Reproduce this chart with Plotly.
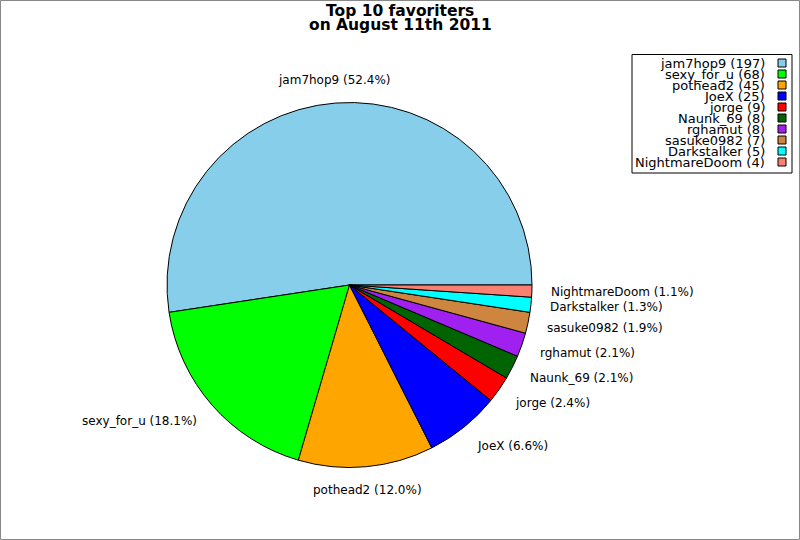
import math
import plotly.graph_objects as go

names = ["jam7hop9", "sexy_for_u", "pothead2", "JoeX", "jorge", "Naunk_69",
         "rghamut", "sasuke0982", "Darkstalker", "NightmareDoom"]
counts = [197, 68, 45, 25, 9, 8, 8, 7, 5, 4]
colors = ["#87CEEB", "#00FF00", "#FFA500", "#0000FF", "#FF0000", "#006400",
          "#A020F0", "#CD853F", "#00FFFF", "#FA8072"]
title_lines = ["Top 10 favoriters", "on August 11th 2011"]

W, H = 800, 540
cx, cy, R = 349.5, 285.0, 182.5
label_r = 200.0

total = sum(counts)
# plotly (counterclockwise) places the first slice clockwise of `rotation`;
# shift so the first slice starts at 3 o'clock and runs counterclockwise
rotation = 90 - 360.0 * counts[0] / total

fig = go.Figure()
fig.add_trace(go.Pie(
    labels=names, values=counts, sort=False, direction="counterclockwise",
    rotation=rotation, textinfo="none", hoverinfo="label+value+percent",
    marker=dict(colors=colors, line=dict(color="black", width=1)),
    domain=dict(x=[(cx - R) / W, (cx + R) / W],
                y=[(H - cy - R) / H, (H - cy + R) / H]),
    showlegend=False,
))

annotations = []
shapes = []
cum = 0.0
for name, c in zip(names, counts):
    frac = c / total
    mid = (cum + frac / 2) * 2 * math.pi
    cum += frac
    co, si = math.cos(mid), math.sin(mid)
    px = cx + label_r * co
    py = cy - label_r * si
    if co > 0.3:
        xa = "left"
    elif co < -0.3:
        xa = "right"
    else:
        xa = "center"
    annotations.append(dict(
        text=f"{name} ({frac * 100:.1f}%)", x=px / W, y=(H - py) / H,
        xref="paper", yref="paper", xanchor=xa, yanchor="middle",
        yshift=6 * si, showarrow=False,
        font=dict(family="DejaVu Sans", size=12, color="black")))

# title
for i, line in enumerate(title_lines):
    annotations.append(dict(
        text=f"<b>{line}</b>", x=400 / W, y=(H - (11 + 13.5 * i)) / H,
        xref="paper", yref="paper", xanchor="center", yanchor="middle",
        showarrow=False, font=dict(family="DejaVu Sans", size=15.5, color="black")))

# legend
leg_top, row_h = 63.0, 11.0
for i, (name, c, col) in enumerate(zip(names, counts, colors)):
    yc = leg_top + row_h * i
    annotations.append(dict(
        text=f"{name} ({c})", x=767 / W, y=(H - yc) / H,
        xref="paper", yref="paper", xanchor="right", yanchor="middle",
        showarrow=False, font=dict(family="DejaVu Sans", size=13, color="black")))
    shapes.append(dict(type="rect", xref="paper", yref="paper",
                       x0=778 / W, x1=786 / W, y0=(H - yc - 4) / H, y1=(H - yc + 4) / H,
                       fillcolor=col, line=dict(color="black", width=1)))

shapes.append(dict(type="rect", xref="paper", yref="paper",
                   x0=632 / W, x1=792 / W, y0=(H - 173) / H, y1=(H - 54.5) / H,
                   fillcolor="rgba(0,0,0,0)", line=dict(color="black", width=1)))
# outer border
shapes.append(dict(type="rect", xref="paper", yref="paper",
                   x0=0.5 / W, x1=(W - 0.5) / W, y0=0.5 / H, y1=(H - 0.5) / H,
                   fillcolor="rgba(0,0,0,0)", line=dict(color="#888888", width=1)))

fig.update_layout(
    width=W, height=H, margin=dict(l=0, r=0, t=0, b=0),
    paper_bgcolor="white", plot_bgcolor="white",
    annotations=annotations, shapes=shapes,
)
fig.write_html("out.html", config={"displayModeBar": False},
               post_script="document.body.style.margin='0';document.body.style.overflow='hidden';")
